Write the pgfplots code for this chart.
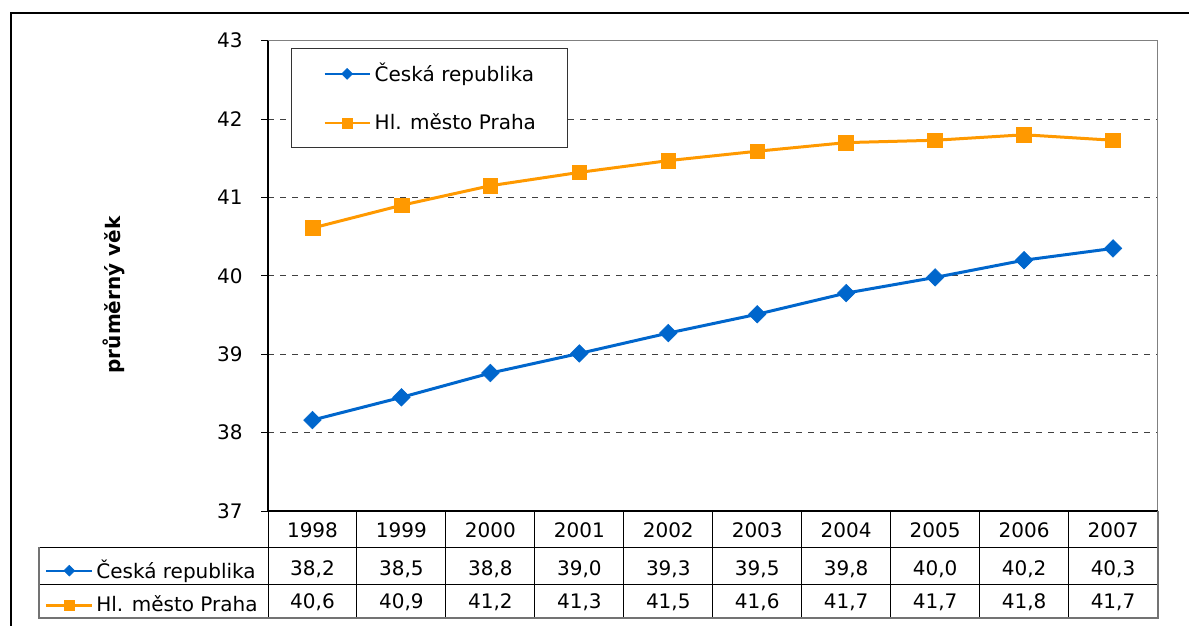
\documentclass[border=0pt]{standalone}
\usepackage{fontspec}
\setmainfont{DejaVu Sans}
\usepackage{pgfplots}
\usepackage{pgfplotstable}
\pgfplotsset{compat=1.18}
\definecolor{crblue}{RGB}{0,102,204}
\definecolor{prorange}{RGB}{255,153,0}
\newcommand\fsz{\fontsize{10}{12}\selectfont}

\pgfplotstableread{
year cr pr
1998 38.16 40.61
1999 38.45 40.90
2000 38.76 41.15
2001 39.01 41.32
2002 39.27 41.47
2003 39.51 41.59
2004 39.78 41.70
2005 39.98 41.73
2006 40.20 41.80
2007 40.35 41.73
}\datatab

\pgfplotsset{
 crl/.style={color=crblue, line width=1.5pt, mark=square*, mark size=3.1pt, mark options={rotate=45, line width=0.3pt}},
 prl/.style={color=prorange, line width=1.5pt, mark=square*, mark size=3.7pt, mark options={line width=0.3pt}},
 crleg/.style={color=crblue, line width=1.1pt, mark=square*, mark size=1.9pt, mark options={rotate=45, line width=0.3pt}},
 prleg/.style={color=prorange, line width=1.1pt, mark=square*, mark size=2.5pt, mark options={line width=0.3pt}},
}

\begin{document}
\fsz
\begin{tikzpicture}
\path[use as bounding box] (0,0) rectangle (594.5pt,-313pt);
\draw[line width=1pt] (5.3pt,-313pt) -- (5.3pt,-6.6pt) -- (594.5pt,-6.6pt);
\begin{axis}[
 scale only axis, width=444.75pt, height=235.15pt,
 at={(134pt,-255.5pt)}, anchor=south west,
 xmin=1997.5, xmax=2007.5, ymin=37, ymax=43,
 xtick=\empty, ytick={37,38,...,43}, ytick pos=left,
 tick align=outside, major tick length=3.5pt,
 tick style={black, line width=0.5pt},
 axis line style={draw=none},
 ymajorgrids, grid style={black!75, line width=0.5pt, dash pattern=on 3pt off 3pt},
 yticklabel style={inner sep=0pt, xshift=-9pt, font=\fsz},
 /pgf/number format/assume math mode=true,
 clip=false,
 legend style={at={(0.0259,0.9845)}, anchor=north west, draw=black!80, line width=0.5pt,
   inner xsep=16pt, inner ysep=7.3pt, row sep=14.5pt, column sep=2pt,
   nodes={inner sep=0pt}, cells={anchor=west}, font=\fsz},
 legend image code/.code={\draw[mark repeat=2,mark phase=2,#1] plot coordinates {(0pt,0pt)(11.25pt,0pt)(22.5pt,0pt)};},
]
\addplot[crl, forget plot] table[x=year, y=cr]{\datatab};
\addplot[prl, forget plot] table[x=year, y=pr]{\datatab};
\addlegendimage{crleg}
\addlegendentry{Česká republika}
\addlegendimage{prleg}
\addlegendentry{Hl. město Praha}
\draw[black!50, line width=0.75pt] (rel axis cs:0,1) -- (rel axis cs:1,1) -- (rel axis cs:1,0);
\draw[black, line width=0.6pt] (rel axis cs:0,1) -- (rel axis cs:0,0) -- (rel axis cs:1,0);
\end{axis}

% y label
\node[rotate=90, font=\fsz\bfseries] at (57pt,-147.5pt) {průměrný věk};

% data table grid
\foreach \i in {1,...,9} {
  \draw[black, line width=0.5pt] ({134pt+44.475pt*\i},-255.5pt) -- ({134pt+44.475pt*\i},-308.85pt);
}
\draw[black, line width=0.5pt] (134pt,-255.5pt) -- (134pt,-308.85pt);
\draw[black, line width=0.5pt] (19.7pt,-273.65pt) -- (578.75pt,-273.65pt);
\draw[black, line width=0.5pt] (19.7pt,-292.15pt) -- (578.75pt,-292.15pt);
\draw[black!55, line width=1pt] (19.7pt,-273.65pt) -- (19.7pt,-308.85pt) -- (578.75pt,-308.85pt) -- (578.75pt,-255.5pt);

% table text
\foreach \y [count=\i from 0] in {1998,1999,2000,2001,2002,2003,2004,2005,2006,2007} {
  \node[font=\fsz, inner sep=0pt] at ({156.24pt+44.475pt*\i},-265pt) {\y};
}
\foreach \a [count=\i from 0] in {{38,2},{38,5},{38,8},{39,0},{39,3},{39,5},{39,8},{40,0},{40,2},{40,3}} {
  \node[font=\fsz, inner sep=0pt] at ({156.24pt+44.475pt*\i},-284.5pt) {\a};
}
\foreach \b [count=\i from 0] in {{40,6},{40,9},{41,2},{41,3},{41,5},{41,6},{41,7},{41,7},{41,8},{41,7}} {
  \node[font=\fsz, inner sep=0pt] at ({156.24pt+44.475pt*\i},-301.3pt) {\b};
}

% table legend (hidden axis)
\begin{axis}[
 hide axis, scale only axis, width=114pt, height=35.2pt,
 at={(19.7pt,-308.85pt)}, anchor=south west,
 xmin=0, xmax=1, ymin=0, ymax=1,
 legend style={at={(0,0.43)}, anchor=west, draw=none, fill=none,
   inner xsep=2.7pt, inner ysep=0pt, row sep=7.3pt, column sep=1.5pt,
   nodes={inner sep=0pt}, cells={anchor=west}, font=\fsz},
 legend image code/.code={\draw[mark repeat=2,mark phase=2,#1] plot coordinates {(0pt,0pt)(11.5pt,0pt)(23pt,0pt)};},
]
\addlegendimage{crleg}
\addlegendentry{Česká republika}
\addlegendimage{prleg}
\addlegendentry{Hl. město Praha}
\end{axis}
\end{tikzpicture}
\end{document}
